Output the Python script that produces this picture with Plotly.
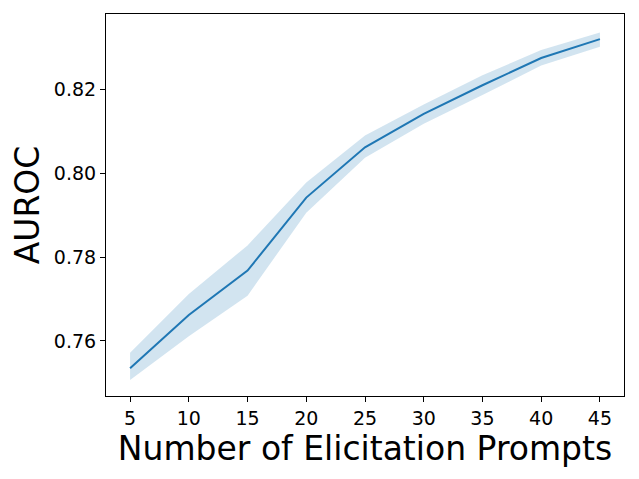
import plotly.graph_objects as go

prompts = [5, 10, 15, 20, 25, 30, 35, 40, 45]
auroc_mean = [0.7535, 0.7662, 0.7768, 0.7942, 0.8062, 0.8142, 0.8210, 0.8275, 0.8320]
auroc_upper = [0.7572, 0.7712, 0.7828, 0.7978, 0.8090, 0.8164, 0.8234, 0.8294, 0.8336]
auroc_lower = [0.7507, 0.7611, 0.7708, 0.7906, 0.8037, 0.8118, 0.8187, 0.8257, 0.8302]
x_ticks = [5, 10, 15, 20, 25, 30, 35, 40, 45]
y_ticks = [0.76, 0.78, 0.80, 0.82]

blue = "#1f77b4"
fig = go.Figure()
fig.add_trace(go.Scatter(x=prompts, y=auroc_upper, mode="lines", line=dict(width=0),
                         showlegend=False, hoverinfo="skip"))
fig.add_trace(go.Scatter(x=prompts, y=auroc_lower, mode="lines", line=dict(width=0),
                         fill="tonexty", fillcolor="rgba(31,119,180,0.2)",
                         showlegend=False, hoverinfo="skip"))
fig.add_trace(go.Scatter(x=prompts, y=auroc_mean, mode="lines",
                         line=dict(color=blue, width=2), showlegend=False))

font = "DejaVu Sans"
axis_common = dict(showgrid=False, zeroline=False, showline=True, linecolor="black",
                   linewidth=1.1, mirror=True, ticks="outside", ticklen=5, tickwidth=1.1,
                   tickcolor="black", tickfont=dict(family=font, size=19, color="black"),
                   automargin=False)
fig.update_layout(
    width=631, height=471,
    margin=dict(l=98, r=15, t=6, b=83),
    paper_bgcolor="white", plot_bgcolor="white",
    xaxis=dict(range=[2.95, 47.05], tickmode="array", tickvals=x_ticks,
               ticktext=[str(v) for v in x_ticks],
               title=dict(text="Number of Elicitation Prompts", font=dict(family=font, size=33, color="black"),
                          standoff=0),
               **axis_common),
    yaxis=dict(range=[0.74687, 0.8380], tickmode="array", tickvals=y_ticks,
               ticktext=[f"{v:.2f}" for v in y_ticks],
               title=dict(text="AUROC", font=dict(family=font, size=33, color="black"), standoff=4),
               **axis_common),
)
fig.write_html("out.html")
